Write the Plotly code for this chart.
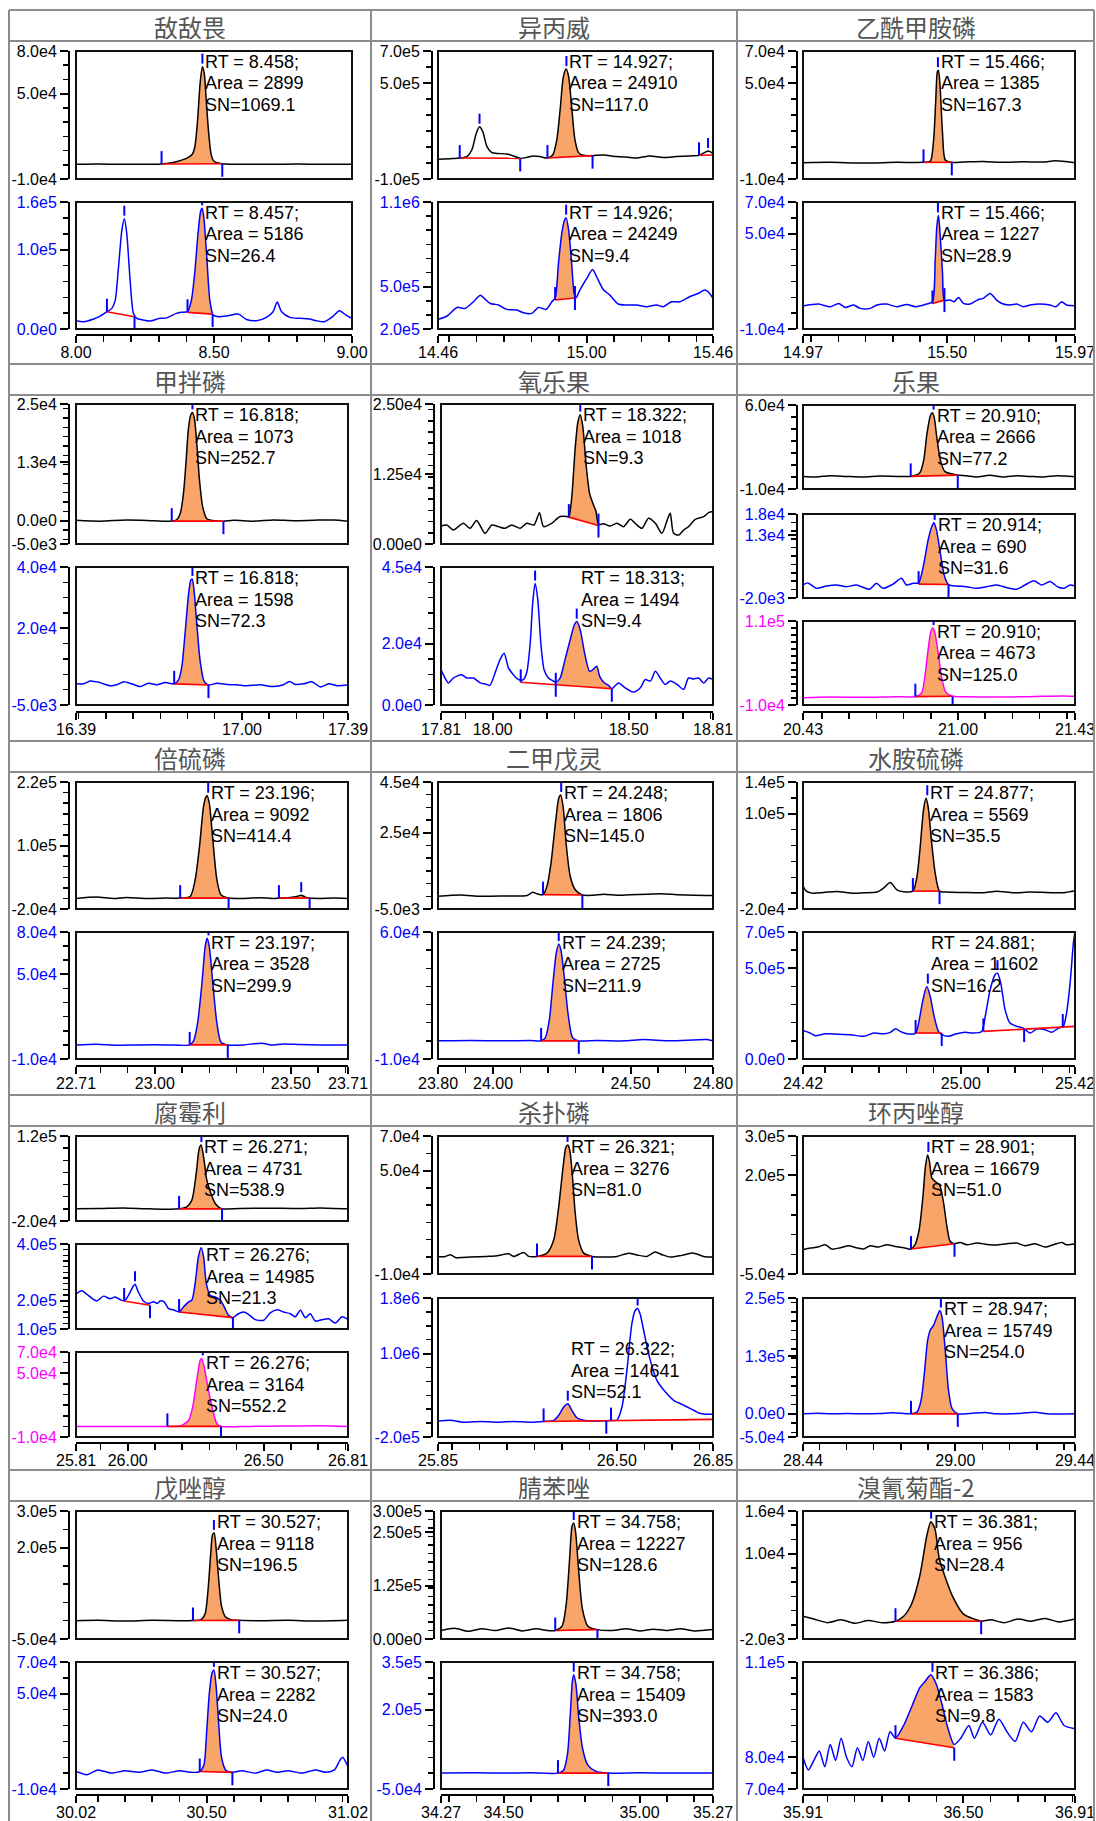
import math
import plotly.graph_objects as go

# ============================ DATA ============================
# ---- 敌敌畏 ----
ddw_xticks = ["8.00", "8.50", "9.00"]
ddw_1_x = [8.00, 8.08, 8.16, 8.24, 8.31, 8.36, 8.40, 8.42, 8.43, 8.44, 8.45, 8.458, 8.465, 8.472, 8.48, 8.49, 8.50, 8.53, 8.60, 8.70, 8.80, 8.90, 9.00]
ddw_1_y = [300, 500, 300, 400, 500, 2000, 4500, 7000, 12000, 30000, 58000, 69000, 64000, 45000, 24000, 7000, 2500, 700, 400, 300, 500, 300, 400]
ddw_1_yticks = [8e4, 5e4, -1e4]
ddw_1_ytext = ["8.0e4", "5.0e4", "-1.0e4"]
ddw_1_base = [(8.31, 500, 8.53, 700)]
ddw_1_fill = [(8.31, 500, 8.53, 700)]
ddw_1_marks = [(8.31, 500, "start"), (8.53, 700, "end"), (8.458, 69000, "apex")]
ddw_1_label = ("8.458", "2899", "1069.1")

ddw_2_x = [8.001, 8.028, 8.064, 8.088, 8.112, 8.13, 8.142, 8.154, 8.166, 8.175, 8.184, 8.196, 8.208, 8.22, 8.244, 8.268, 8.304, 8.328, 8.364, 8.382, 8.404, 8.418, 8.430, 8.442, 8.452, 8.457, 8.463, 8.473, 8.485, 8.497, 8.515, 8.545, 8.588, 8.618, 8.654, 8.69, 8.714, 8.729, 8.745, 8.775, 8.81, 8.846, 8.87, 8.90, 8.93, 8.954, 8.978, 9.0]
ddw_2_y = [10.5e3, 9.2e3, 12.6e3, 16.3e3, 21.8e3, 26e3, 36e3, 78e3, 124e3, 139e3, 120e3, 61.6e3, 19.7e3, 13.4e3, 11.3e3, 10e3, 13.4e3, 14e3, 19.7e3, 21e3, 21.8e3, 36e3, 70e3, 120e3, 149e3, 152e3, 141e3, 95e3, 36e3, 17.6e3, 15.5e3, 16.3e3, 18.8e3, 12e3, 10.5e3, 14.7e3, 21.8e3, 34e3, 21.8e3, 14.7e3, 13.4e3, 12.6e3, 10.5e3, 9.2e3, 15.5e3, 23e3, 17.6e3, 13.4e3]
ddw_2_yticks = [1.6e5, 1e5, 0]
ddw_2_ytext = ["1.6e5", "1.0e5", "0.0e0"]
ddw_2_base = [(8.112, 21.8e3, 8.212, 15.5e3), (8.404, 21e3, 8.495, 18.8e3)]
ddw_2_fill = [(8.404, 21e3, 8.495, 18.8e3)]
ddw_2_marks = [(8.112, 21.8e3, "start"), (8.212, 15.5e3, "end"), (8.175, 139e3, "apex"),
               (8.404, 21e3, "start"), (8.495, 18.8e3, "end"), (8.457, 152e3, "apex")]
ddw_2_label = ("8.457", "5186", "26.4")

# ---- 异丙威 ----
ybw_xticks = ["14.46", "15.00", "15.46"]
ybw_1_x = [14.46, 14.505, 14.539, 14.565, 14.583, 14.599, 14.611, 14.623, 14.638, 14.656, 14.674, 14.71, 14.734, 14.759, 14.783, 14.807, 14.831, 14.858, 14.877, 14.892, 14.904, 14.916, 14.926, 14.935, 14.946, 14.958, 14.971, 14.988, 15.022, 15.061, 15.109, 15.158, 15.182, 15.23, 15.279, 15.327, 15.375, 15.409, 15.424, 15.442, 15.46]
ybw_1_y = [23e3, 27e3, 31e3, 40e3, 81e3, 185e3, 227e3, 196e3, 102e3, 65e3, 60e3, 56e3, 44e3, 29e3, 35e3, 44e3, 40e3, 31e3, 50e3, 144e3, 331e3, 540e3, 587e3, 540e3, 352e3, 144e3, 65e3, 48e3, 46e3, 50e3, 40e3, 35e3, 31e3, 44e3, 35e3, 40e3, 44e3, 48e3, 60e3, 75e3, 60e3]
ybw_1_yticks = [7e5, 5e5, -1e5]
ybw_1_ytext = ["7.0e5", "5.0e5", "-1.0e5"]
ybw_1_base = [(14.539, 31e3, 14.759, 29e3), (14.858, 31e3, 15.022, 46e3), (15.409, 48e3, 15.46, 50e3)]
ybw_1_fill = [(14.858, 31e3, 15.022, 46e3)]
ybw_1_marks = [(14.539, 31e3, "start"), (14.759, 29e3, "end"), (14.611, 227e3, "apex"),
               (14.858, 31e3, "start"), (15.022, 46e3, "end"), (14.927, 587e3, "apex"),
               (15.409, 48e3, "start"), (15.442, 75e3, "apex")]
ybw_1_label = ("14.927", "24910", "117.0")

ybw_2_x = [14.46, 14.493, 14.529, 14.559, 14.589, 14.614, 14.632, 14.65, 14.68, 14.71, 14.747, 14.771, 14.801, 14.825, 14.853, 14.874, 14.886, 14.898, 14.91, 14.92, 14.926, 14.935, 14.947, 14.955, 14.962, 14.976, 15.001, 15.022, 15.037, 15.061, 15.085, 15.115, 15.146, 15.182, 15.218, 15.255, 15.279, 15.309, 15.339, 15.375, 15.406, 15.43, 15.448, 15.46]
ybw_2_y = [268e3, 292e3, 353e3, 346e3, 393e3, 440e3, 410e3, 381e3, 370e3, 339e3, 334e3, 315e3, 311e3, 353e3, 339e3, 393e3, 420e3, 664e3, 876e3, 970e3, 989e3, 900e3, 641e3, 452e3, 422e3, 476e3, 558e3, 622e3, 570e3, 480e3, 440e3, 377e3, 370e3, 370e3, 358e3, 370e3, 358e3, 393e3, 393e3, 429e3, 452e3, 476e3, 452e3, 417e3]
ybw_2_yticks = [1.1e6, 5e5, 2e5]
ybw_2_ytext = ["1.1e6", "5.0e5", "2.0e5"]
ybw_2_base = [(14.886, 405e3, 14.958, 420e3)]
ybw_2_fill = [(14.886, 405e3, 14.958, 420e3)]
ybw_2_marks = [(14.886, 405e3, "start"), (14.958, 420e3, "split"), (14.926, 989e3, "apex")]
ybw_2_label = ("14.926", "24249", "9.4")

# ---- 乙酰甲胺磷 ----
yxjam_xticks = ["14.97", "15.50", "15.97"]
yxjam_1_x = [14.97, 15.07, 15.193, 15.315, 15.413, 15.438, 15.45, 15.458, 15.464, 15.468, 15.474, 15.483, 15.493, 15.517, 15.56, 15.633, 15.707, 15.78, 15.854, 15.897, 15.97]
yxjam_1_y = [200, 400, 0, 400, 400, 1000, 14e3, 39e3, 57e3, 58e3, 48e3, 18.5e3, 1.9e3, 400, 600, 1000, 400, 800, 600, 1.4e3, 200]
yxjam_1_yticks = [7e4, 5e4, -1e4]
yxjam_1_ytext = ["7.0e4", "5.0e4", "-1.0e4"]
yxjam_1_base = [(15.413, 400, 15.517, 400)]
yxjam_1_fill = [(15.413, 400, 15.517, 400)]
yxjam_1_marks = [(15.413, 400, "start"), (15.517, 400, "end"), (15.466, 58e3, "apex")]
yxjam_1_label = ("15.466", "1385", "167.3")

yxjam_2_x = [14.97, 15.027, 15.07, 15.101, 15.125, 15.156, 15.18, 15.217, 15.242, 15.278, 15.315, 15.352, 15.382, 15.425, 15.446, 15.456, 15.462, 15.468, 15.474, 15.483, 15.49, 15.511, 15.526, 15.542, 15.56, 15.584, 15.615, 15.633, 15.658, 15.682, 15.701, 15.731, 15.756, 15.78, 15.805, 15.841, 15.878, 15.9, 15.921, 15.939, 15.97]
yxjam_2_y = [4.5e3, 5.7e3, 4e3, 6.1e3, 3.6e3, 5.1e3, 3e3, 3e3, 5.1e3, 5.7e3, 4e3, 5.5e3, 4e3, 5.7e3, 7.2e3, 33.4e3, 54.3e3, 61.6e3, 50e3, 25e3, 8.2e3, 8.2e3, 7.2e3, 9.9e3, 6.1e3, 5.7e3, 8.6e3, 9.3e3, 12.4e3, 8.2e3, 6.1e3, 5.1e3, 5.7e3, 4e3, 5.1e3, 5.7e3, 5.1e3, 4e3, 7.2e3, 5.1e3, 4.7e3]
yxjam_2_yticks = [7e4, 5e4, -1e4]
yxjam_2_ytext = ["7.0e4", "5.0e4", "-1.0e4"]
yxjam_2_base = [(15.446, 6.1e3, 15.49, 8.2e3)]
yxjam_2_fill = [(15.446, 6.1e3, 15.49, 8.2e3)]
yxjam_2_marks = [(15.446, 6.1e3, "start"), (15.49, 8.2e3, "split"), (15.466, 61.6e3, "apex")]
yxjam_2_label = ("15.466", "1227", "28.9")

# ---- 甲拌磷 ----
jbl_xticks = ["16.39", "17.00", "17.39"]
jbl_1_x = [16.39, 16.478, 16.576, 16.675, 16.742, 16.76, 16.773, 16.785, 16.795, 16.803, 16.812, 16.818, 16.825, 16.834, 16.844, 16.856, 16.871, 16.896, 16.932, 16.969, 17.043, 17.116, 17.19, 17.264, 17.337, 17.39]
jbl_1_y = [100, -100, 150, 0, -100, 200, 1.5e3, 5.8e3, 13e3, 19.5e3, 22.7e3, 23.2e3, 22e3, 16.6e3, 8.7e3, 2.9e3, 400, 0, -100, 100, -100, 150, 0, 100, 150, -100]
jbl_1_yticks = [2.5e4, 1.25e4, 0, -5e3]
jbl_1_ytext = ["2.5e4", "1.3e4", "0.0e0", "-5.0e3"]
jbl_1_base = [(16.742, -100, 16.932, -100)]
jbl_1_fill = [(16.742, -100, 16.932, -100)]
jbl_1_marks = [(16.742, -100, "start"), (16.932, -100, "end"), (16.818, 23.2e3, "apex")]
jbl_1_label = ("16.818", "1073", "252.7")

jbl_2_x = [16.39, 16.417, 16.442, 16.478, 16.515, 16.54, 16.567, 16.595, 16.626, 16.656, 16.687, 16.718, 16.751, 16.767, 16.779, 16.791, 16.804, 16.812, 16.817, 16.824, 16.834, 16.846, 16.861, 16.877, 16.908, 16.945, 16.981, 17.018, 17.067, 17.116, 17.153, 17.175, 17.196, 17.227, 17.257, 17.288, 17.319, 17.35, 17.39]
jbl_2_y = [1.9e3, 1.9e3, 2.8e3, 2.3e3, 1.3e3, 1.6e3, 2.6e3, 1.9e3, 1e3, 2.1e3, 1.6e3, 2.3e3, 1.9e3, 3.2e3, 7.5e3, 18.4e3, 31.3e3, 35.7e3, 36.1e3, 32.4e3, 21.6e3, 9.7e3, 2.7e3, 1.5e3, 2.1e3, 1.7e3, 1.6e3, 1.3e3, 1.6e3, 1e3, 1.6e3, 2.7e3, 1.7e3, 1.9e3, 2.6e3, 0.9e3, 1.9e3, 1.3e3, 1.5e3]
jbl_2_yticks = [4e4, 2e4, -5e3]
jbl_2_ytext = ["4.0e4", "2.0e4", "-5.0e3"]
jbl_2_base = [(16.751, 1.9e3, 16.877, 1.5e3)]
jbl_2_fill = [(16.751, 1.9e3, 16.877, 1.5e3)]
jbl_2_marks = [(16.751, 1.9e3, "start"), (16.877, 1.5e3, "end"), (16.818, 36.1e3, "apex")]
jbl_2_label = ("16.818", "1598", "72.3")

# ---- 氧乐果 ----
ylg_xticks = ["17.81", "18.00", "18.50", "18.81"]
ylg_1_x = [17.81, 17.831, 17.855, 17.892, 17.917, 17.941, 17.972, 17.997, 18.021, 18.046, 18.07, 18.101, 18.125, 18.152, 18.172, 18.187, 18.217, 18.248, 18.273, 18.28, 18.291, 18.303, 18.313, 18.322, 18.331, 18.344, 18.356, 18.368, 18.38, 18.389, 18.408, 18.432, 18.457, 18.481, 18.506, 18.53, 18.549, 18.573, 18.598, 18.622, 18.644, 18.653, 18.665, 18.684, 18.702, 18.72, 18.745, 18.776, 18.794, 18.81]
ylg_1_y = [3.2e3, 3.4e3, 2.5e3, 3.7e3, 2.8e3, 4.2e3, 1.9e3, 3.4e3, 3.1e3, 2.8e3, 3.4e3, 2.8e3, 3.7e3, 3.4e3, 5.6e3, 3.1e3, 3.7e3, 4.9e3, 4.9e3, 4.8e3, 8.5e3, 16.9e3, 21.7e3, 23.1e3, 21.1e3, 13.9e3, 9.1e3, 7.3e3, 5.8e3, 3.5e3, 3.6e3, 3.2e3, 3.7e3, 3.1e3, 4.4e3, 3.4e3, 2.8e3, 4.6e3, 3.7e3, 1.9e3, 4.6e3, 5.5e3, 1.9e3, 1.6e3, 2.5e3, 3.1e3, 4.4e3, 4.9e3, 5.6e3, 5.8e3]
ylg_1_yticks = [2.5e4, 1.25e4, 0]
ylg_1_ytext = ["2.50e4", "1.25e4", "0.00e0"]
ylg_1_base = [(18.28, 4.8e3, 18.389, 3.3e3)]
ylg_1_fill = [(18.28, 4.8e3, 18.389, 3.3e3)]
ylg_1_marks = [(18.28, 4.8e3, "start"), (18.389, 3.3e3, "split"), (18.322, 23.1e3, "apex")]
ylg_1_label = ("18.322", "1018", "9.3")

ylg_2_x = [17.81, 17.825, 17.837, 17.855, 17.886, 17.904, 17.929, 17.954, 17.978, 17.99, 18.009, 18.027, 18.042, 18.058, 18.076, 18.095, 18.113, 18.125, 18.138, 18.147, 18.156, 18.166, 18.177, 18.189, 18.205, 18.223, 18.232, 18.248, 18.266, 18.285, 18.3, 18.309, 18.322, 18.338, 18.356, 18.368, 18.383, 18.393, 18.408, 18.426, 18.438, 18.463, 18.487, 18.518, 18.543, 18.561, 18.58, 18.598, 18.616, 18.634, 18.653, 18.678, 18.702, 18.72, 18.739, 18.757, 18.776, 18.794, 18.81]
ylg_2_y = [11.5e3, 8.8e3, 7.2e3, 8.8e3, 9.9e3, 8.8e3, 8.8e3, 7.2e3, 6.7e3, 6.4e3, 10.5e3, 14.8e3, 16.9e3, 12.1e3, 9.9e3, 8.3e3, 8.3e3, 10.5e3, 20.2e3, 33.1e3, 39.6e3, 34.2e3, 20.2e3, 11.5e3, 8.8e3, 7.8e3, 7.4e3, 8.8e3, 14.8e3, 21.3e3, 26.1e3, 27.2e3, 24.5e3, 16.9e3, 11e3, 11.5e3, 12.6e3, 9.4e3, 7.4e3, 6.4e3, 5.3e3, 7.2e3, 5.6e3, 4.2e3, 5.6e3, 8.3e3, 7.8e3, 11e3, 8.8e3, 6.7e3, 7.8e3, 6.7e3, 5.1e3, 8.8e3, 8.5e3, 8.8e3, 7.2e3, 8.8e3, 8.3e3]
ylg_2_yticks = [4.5e4, 2e4, 0]
ylg_2_ytext = ["4.5e4", "2.0e4", "0.0e0"]
ylg_2_base = [(18.103, 7.4e3, 18.438, 5.3e3)]
ylg_2_fill = [(18.232, 6.6e3, 18.438, 5.3e3)]
ylg_2_marks = [(18.103, 7.4e3, "start"), (18.156, 39.6e3, "apex"), (18.232, 6.6e3, "split"),
               (18.309, 27.2e3, "apex"), (18.438, 5.3e3, "end")]
ylg_2_label = ("18.313", "1494", "9.4")

# ---- 乐果 ----
lg_xticks = ["20.43", "21.00", "21.43"]
lg_1_x = [20.43, 20.479, 20.528, 20.59, 20.651, 20.712, 20.774, 20.826, 20.859, 20.874, 20.886, 20.899, 20.906, 20.913, 20.923, 20.935, 20.951, 20.976, 20.999, 21.031, 21.068, 21.117, 21.166, 21.215, 21.264, 21.313, 21.362, 21.43]
lg_1_y = [500, 0, 1.1e3, 500, 0, 800, 500, 500, 3.3e3, 14.3e3, 36.5e3, 51.7e3, 53.6e3, 48.9e3, 31e3, 14.3e3, 4.7e3, 2.7e3, 1.6e3, 1.1e3, 0, 1.4e3, 0, 1.1e3, 500, 0, 1.1e3, 300]
lg_1_yticks = [6e4, -1e4]
lg_1_ytext = ["6.0e4", "-1.0e4"]
lg_1_base = [(20.826, 500, 20.999, 1.6e3)]
lg_1_fill = [(20.826, 500, 20.999, 1.6e3)]
lg_1_marks = [(20.826, 500, "start"), (20.999, 1.6e3, "end"), (20.91, 53.6e3, "apex")]
lg_1_label = ("20.910", "2666", "77.2")

lg_2_x = [20.43, 20.448, 20.479, 20.516, 20.553, 20.59, 20.626, 20.675, 20.7, 20.724, 20.761, 20.792, 20.81, 20.835, 20.855, 20.872, 20.89, 20.904, 20.911, 20.921, 20.935, 20.951, 20.965, 20.994, 21.031, 21.068, 21.105, 21.142, 21.178, 21.215, 21.246, 21.279, 21.307, 21.338, 21.369, 21.393, 21.412, 21.43]
lg_2_y = [1.1e3, 1.6e3, 300, 850, 1.1e3, 700, 1.1e3, 100, 1.5e3, 300, 1.3e3, 2.7e3, 1.1e3, 1.5e3, 1.6e3, 5.4e3, 11.8e3, 15.1e3, 15.9e3, 14.1e3, 8.6e3, 3e3, 1.2e3, 850, 700, 300, 700, 1.1e3, 500, 100, 1.1e3, 2.1e3, 1.1e3, 1.9e3, 550, 400, 1.1e3, 850]
lg_2_yticks = [1.8e4, 1.3e4, -2e3]
lg_2_ytext = ["1.8e4", "1.3e4", "-2.0e3"]
lg_2_base = [(20.855, 1.3e3, 20.965, 1.2e3)]
lg_2_fill = [(20.855, 1.3e3, 20.965, 1.2e3)]
lg_2_marks = [(20.855, 1.3e3, "start"), (20.965, 1.2e3, "end"), (20.914, 15.9e3, "apex")]
lg_2_label = ("20.914", "690", "31.6")

lg_3_x = [20.43, 20.528, 20.651, 20.774, 20.843, 20.866, 20.878, 20.89, 20.9, 20.907, 20.915, 20.927, 20.939, 20.955, 20.98, 21.019, 21.142, 21.264, 21.387, 21.43]
lg_3_y = [500, 1.4e3, 1e3, 1.9e3, 1.9e3, 7.1e3, 31e3, 69e3, 95e3, 100e3, 92.9e3, 64.3e3, 31e3, 8.1e3, 2.4e3, 1.9e3, 1.4e3, 1.9e3, 2.9e3, 2.4e3]
lg_3_yticks = [1.1e5, -1e4]
lg_3_ytext = ["1.1e5", "-1.0e4"]
lg_3_base = [(20.843, 1.9e3, 20.98, 2.4e3)]
lg_3_fill = [(20.843, 1.9e3, 20.98, 2.4e3)]
lg_3_marks = [(20.843, 1.9e3, "start"), (20.98, 2.4e3, "end"), (20.91, 100e3, "apex")]
lg_3_label = ("20.910", "4673", "125.0")

# ---- 倍硫磷 ----
bll_xticks = ["22.71", "23.00", "23.50", "23.71"]
bll_1_x = [22.71, 22.786, 22.847, 22.896, 22.97, 23.044, 23.093, 23.13, 23.148, 23.164, 23.179, 23.188, 23.192, 23.2, 23.212, 23.228, 23.243, 23.271, 23.326, 23.387, 23.436, 23.456, 23.498, 23.522, 23.538, 23.553, 23.569, 23.608, 23.657, 23.71]
bll_1_y = [0, 2.5e3, 0, 1.9e3, 0, 600, 600, 3.7e3, 35e3, 98e3, 174e3, 192e3, 194e3, 180e3, 117e3, 35e3, 6.9e3, 600, 0, 1.3e3, 0, 600, 1.9e3, 3.7e3, 6.2e3, 2.5e3, 600, 0, 600, 0]
bll_1_yticks = [2.2e5, 1e5, -2e4]
bll_1_ytext = ["2.2e5", "1.0e5", "-2.0e4"]
bll_1_base = [(23.093, 600, 23.271, 600), (23.456, 600, 23.569, 600)]
bll_1_fill = [(23.093, 600, 23.271, 600), (23.456, 600, 23.569, 600)]
bll_1_marks = [(23.093, 600, "start"), (23.271, 600, "end"), (23.196, 194e3, "apex"),
               (23.456, 600, "start"), (23.569, 600, "end"), (23.538, 6.2e3, "apex")]
bll_1_label = ("23.196", "9092", "414.4")

bll_2_x = [22.71, 22.786, 22.86, 22.946, 23.044, 23.128, 23.142, 23.157, 23.173, 23.185, 23.192, 23.2, 23.213, 23.228, 23.243, 23.268, 23.326, 23.393, 23.424, 23.473, 23.535, 23.608, 23.71]
bll_2_y = [0, 500, -200, 0, 0, 0, 2.6e3, 15.4e3, 43.7e3, 69.6e3, 75.5e3, 69.6e3, 43.7e3, 15.4e3, 1.9e3, 0, 0, 1.2e3, 0, 700, 200, 0, 0]
bll_2_yticks = [8e4, 5e4, -1e4]
bll_2_ytext = ["8.0e4", "5.0e4", "-1.0e4"]
bll_2_base = [(23.128, 0, 23.268, 0)]
bll_2_fill = [(23.128, 0, 23.268, 0)]
bll_2_marks = [(23.128, 0, "start"), (23.268, 0, "end"), (23.197, 75.5e3, "apex")]
bll_2_label = ("23.197", "3528", "299.9")

# ---- 二甲戊灵 ----
ejwl_xticks = ["23.80", "24.00", "24.50", "24.80"]
ejwl_1_x = [23.80, 23.881, 23.954, 24.039, 24.124, 24.145, 24.16, 24.182, 24.196, 24.211, 24.227, 24.239, 24.246, 24.255, 24.267, 24.281, 24.299, 24.325, 24.366, 24.402, 24.451, 24.499, 24.56, 24.608, 24.669, 24.73, 24.80]
ejwl_1_y = [0, 500, 0, 100, 300, 1.6e3, 1e3, 650, 3.9e3, 13.1e3, 28.8e3, 38.6e3, 39.9e3, 35.3e3, 19.6e3, 7.8e3, 2.6e3, 500, 400, 800, 400, 650, 800, 1e3, 650, 400, 300]
ejwl_1_yticks = [4.5e4, 2.5e4, -5e3]
ejwl_1_ytext = ["4.5e4", "2.5e4", "-5.0e3"]
ejwl_1_base = [(24.182, 650, 24.325, 500)]
ejwl_1_fill = [(24.182, 650, 24.325, 500)]
ejwl_1_marks = [(24.182, 650, "start"), (24.325, 500, "end"), (24.248, 39.9e3, "apex")]
ejwl_1_label = ("24.248", "1806", "145.0")

ejwl_2_x = [23.80, 23.918, 24.039, 24.136, 24.175, 24.19, 24.205, 24.218, 24.23, 24.239, 24.247, 24.259, 24.274, 24.29, 24.312, 24.378, 24.475, 24.548, 24.645, 24.778, 24.80]
ejwl_2_y = [0, 200, 0, 200, 0, 1.6e3, 11.7e3, 31.9e3, 48.3e3, 53.4e3, 50.1e3, 35.5e3, 13.6e3, 1.6e3, 0, 200, 0, 700, 0, 700, 0]
ejwl_2_yticks = [6e4, -1e4]
ejwl_2_ytext = ["6.0e4", "-1.0e4"]
ejwl_2_base = [(24.175, 0, 24.312, 0)]
ejwl_2_fill = [(24.175, 0, 24.312, 0)]
ejwl_2_marks = [(24.175, 0, "start"), (24.312, 0, "end"), (24.239, 53.4e3, "apex")]
ejwl_2_label = ("24.239", "2725", "211.9")

# ---- 水胺硫磷 ----
salsl_xticks = ["24.42", "25.00", "25.42"]
salsl_1_x = [24.42, 24.432, 24.453, 24.496, 24.545, 24.594, 24.643, 24.692, 24.716, 24.741, 24.765, 24.79, 24.824, 24.839, 24.851, 24.863, 24.872, 24.88, 24.892, 24.906, 24.922, 24.949, 25.01, 25.083, 25.132, 25.194, 25.255, 25.316, 25.377, 25.42]
salsl_1_y = [9.3e3, 2.5e3, 0, 800, 2.1e3, 0, 400, 1.3e3, 6.3e3, 13.4e3, 4.2e3, 1.7e3, 2.5e3, 21e3, 58.8e3, 104.8e3, 119.5e3, 109e3, 67.1e3, 25.3e3, 2.5e3, 1.3e3, 800, 400, 2.5e3, 400, 1.3e3, 800, 400, 2.9e3]
salsl_1_yticks = [1.4e5, 1e5, -2e4]
salsl_1_ytext = ["1.4e5", "1.0e5", "-2.0e4"]
salsl_1_base = [(24.824, 2.5e3, 24.922, 2.5e3)]
salsl_1_fill = [(24.824, 2.5e3, 24.922, 2.5e3)]
salsl_1_marks = [(24.824, 2.5e3, "start"), (24.922, 2.5e3, "end"), (24.877, 119.5e3, "apex")]
salsl_1_label = ("24.877", "5569", "35.5")

salsl_2_x = [24.42, 24.447, 24.465, 24.502, 24.545, 24.594, 24.643, 24.68, 24.716, 24.741, 24.761, 24.777, 24.802, 24.834, 24.845, 24.861, 24.875, 24.888, 24.902, 24.918, 24.93, 24.955, 24.985, 25.016, 25.047, 25.077, 25.09, 25.108, 25.126, 25.135, 25.147, 25.163, 25.181, 25.206, 25.23, 25.255, 25.279, 25.31, 25.334, 25.359, 25.377, 25.389, 25.402, 25.414, 25.42]
salsl_2_y = [157.6e3, 143e3, 128e3, 139e3, 137e3, 134e3, 125e3, 143e3, 139e3, 147e3, 167e3, 152e3, 139e3, 143e3, 198e3, 326e3, 399e3, 344e3, 235e3, 152e3, 134e3, 125e3, 139e3, 147e3, 143e3, 152e3, 235e3, 381e3, 464e3, 473e3, 418e3, 271e3, 198e3, 180e3, 170e3, 143e3, 165e3, 161e3, 147e3, 170e3, 180e3, 253e3, 418e3, 638e3, 702e3]
salsl_2_yticks = [7e5, 5e5, 0]
salsl_2_ytext = ["7.0e5", "5.0e5", "0.0e0"]
salsl_2_base = [(24.834, 143e3, 24.93, 143e3), (25.083, 152e3, 25.42, 180e3)]
salsl_2_fill = [(24.834, 143e3, 24.93, 143e3)]
salsl_2_marks = [(24.834, 143e3, "start"), (24.93, 143e3, "end"), (24.879, 399e3, "apex"),
                 (25.083, 152e3, "start"), (25.135, 473e3, "apex"), (25.233, 165e3, "end"),
                 (25.375, 176e3, "start")]
salsl_2_label = ("24.881", "11602", "16.2")

# ---- 腐霉利 ----
fml_xticks = ["25.81", "26.00", "26.50", "26.81"]
fml_1_x = [25.81, 25.898, 25.984, 26.082, 26.189, 26.217, 26.236, 26.252, 26.263, 26.27, 26.279, 26.291, 26.306, 26.322, 26.34, 26.347, 26.414, 26.512, 26.635, 26.708, 26.81]
fml_1_y = [0, 550, 1.6e3, 0, 0, 3.3e3, 14.3e3, 58.3e3, 99.6e3, 105e3, 85.8e3, 47.2e3, 25.2e3, 8.8e3, 1.1e3, 0, 550, 1.1e3, 550, 1.6e3, 0]
fml_1_yticks = [1.2e5, -2e4]
fml_1_ytext = ["1.2e5", "-2.0e4"]
fml_1_base = [(26.189, 0, 26.347, 0)]
fml_1_fill = [(26.189, 0, 26.347, 0)]
fml_1_marks = [(26.189, 0, "start"), (26.347, 0, "end"), (26.271, 105e3, "apex")]
fml_1_label = ("26.271", "4731", "538.9")

fml_2_x = [25.81, 25.831, 25.849, 25.886, 25.911, 25.935, 25.954, 25.972, 25.987, 26.003, 26.019, 26.027, 26.039, 26.058, 26.076, 26.095, 26.109, 26.119, 26.134, 26.15, 26.168, 26.189, 26.205, 26.224, 26.236, 26.248, 26.26, 26.27, 26.279, 26.289, 26.303, 26.322, 26.34, 26.355, 26.371, 26.387, 26.404, 26.426, 26.444, 26.469, 26.5, 26.524, 26.549, 26.573, 26.598, 26.616, 26.635, 26.653, 26.671, 26.69, 26.714, 26.739, 26.763, 26.788, 26.81]
fml_2_y = [223e3, 235e3, 223e3, 199e3, 216e3, 207e3, 213e3, 204e3, 199e3, 219e3, 249e3, 258e3, 231e3, 199e3, 190e3, 196e3, 190e3, 199e3, 196e3, 172e3, 168e3, 160e3, 178e3, 196e3, 202e3, 261e3, 355e3, 387e3, 355e3, 261e3, 219e3, 213e3, 202e3, 178e3, 148e3, 140e3, 152e3, 160e3, 152e3, 133e3, 131e3, 157e3, 168e3, 160e3, 154e3, 143e3, 166e3, 140e3, 154e3, 128e3, 133e3, 136e3, 121e3, 143e3, 133e3]
fml_2_yticks = [4e5, 2e5, 1e5]
fml_2_ytext = ["4.0e5", "2.0e5", "1.0e5"]
fml_2_base = [(25.987, 199e3, 26.082, 184e3), (26.189, 160e3, 26.387, 140e3)]
fml_2_fill = [(26.189, 160e3, 26.387, 140e3)]
fml_2_marks = [(25.987, 199e3, "start"), (26.027, 258e3, "apex"), (26.082, 184e3, "end"),
               (26.189, 160e3, "start"), (26.276, 387e3, "apex"), (26.387, 140e3, "end")]
fml_2_label = ("26.276", "14985", "21.3")

fml_3_x = [25.81, 25.96, 26.082, 26.146, 26.193, 26.224, 26.239, 26.254, 26.266, 26.272, 26.281, 26.297, 26.313, 26.328, 26.343, 26.45, 26.573, 26.708, 26.81]
fml_3_y = [0, 0, 0, 0, 300, 5.7e3, 18.3e3, 43.5e3, 61.8e3, 64e3, 56.1e3, 34e3, 15.1e3, 2.5e3, 0, 0, 300, 600, 0]
fml_3_yticks = [7e4, 5e4, -1e4]
fml_3_ytext = ["7.0e4", "5.0e4", "-1.0e4"]
fml_3_base = [(26.146, 0, 26.343, 0)]
fml_3_fill = [(26.146, 0, 26.343, 0)]
fml_3_marks = [(26.146, 0, "start"), (26.343, 0, "end"), (26.276, 64e3, "apex")]
fml_3_label = ("26.276", "3164", "552.2")

# ---- 杀扑磷 ----
spl_xticks = ["25.85", "26.50", "26.85"]
spl_1_x = [25.85, 25.877, 25.895, 25.913, 25.968, 26.028, 26.065, 26.107, 26.125, 26.162, 26.18, 26.21, 26.246, 26.271, 26.289, 26.305, 26.315, 26.322, 26.329, 26.338, 26.349, 26.361, 26.38, 26.41, 26.452, 26.501, 26.543, 26.574, 26.61, 26.64, 26.665, 26.695, 26.737, 26.78, 26.816, 26.85]
spl_1_y = [0, 200, 1.2e3, -400, -200, 200, 600, 1.7e3, 200, 2.5e3, 200, 200, 2.1e3, 9.9e3, 29.1e3, 52.3e3, 63.4e3, 64.8e3, 61.9e3, 48.4e3, 25.3e3, 9.9e3, 2.1e3, 200, -200, 200, 2.1e3, 1e3, 200, 2.7e3, 1.2e3, -200, 800, 2.1e3, 200, -200]
spl_1_yticks = [7e4, 5e4, -1e4]
spl_1_ytext = ["7.0e4", "5.0e4", "-1.0e4"]
spl_1_base = [(26.21, 200, 26.41, 200)]
spl_1_fill = [(26.21, 200, 26.41, 200)]
spl_1_marks = [(26.21, 200, "start"), (26.41, 200, "end"), (26.321, 64.8e3, "apex")]
spl_1_label = ("26.321", "3276", "81.0")

spl_2_x = [25.85, 25.895, 25.943, 26.004, 26.065, 26.125, 26.186, 26.234, 26.271, 26.289, 26.307, 26.322, 26.337, 26.355, 26.38, 26.41, 26.44, 26.462, 26.479, 26.501, 26.519, 26.537, 26.555, 26.567, 26.576, 26.585, 26.6, 26.622, 26.646, 26.677, 26.707, 26.737, 26.768, 26.798, 26.822, 26.85]
spl_2_y = [30e3, 40e3, 14e3, 24e3, 14e3, 24e3, 14e3, 24e3, 40e3, 112e3, 232e3, 280e3, 184e3, 77e3, 40e3, 30e3, 30e3, 33e3, 36e3, 45e3, 232e3, 759e3, 1.43e6, 1.62e6, 1.65e6, 1.57e6, 1.29e6, 903e3, 615e3, 447e3, 328e3, 270e3, 208e3, 146e3, 127e3, 127e3]
spl_2_yticks = [1.8e6, 1e6, -2e5]
spl_2_ytext = ["1.8e6", "1.0e6", "-2.0e5"]
spl_2_base = [(26.234, 24e3, 26.85, 53e3)]
spl_2_fill = [(26.234, 24e3, 26.462, 34.7e3)]
spl_2_marks = [(26.234, 24e3, "start"), (26.322, 280e3, "apex"), (26.462, 34.7e3, "end"),
               (26.479, 36e3, "start"), (26.576, 1.65e6, "apex")]
spl_2_label = ("26.322", "14641", "52.1")

# ---- 环丙唑醇 ----
cbzc_xticks = ["28.44", "29.00", "29.44"]
cbzc_1_x = [28.44, 28.467, 28.494, 28.522, 28.546, 28.577, 28.608, 28.636, 28.663, 28.687, 28.718, 28.748, 28.779, 28.81, 28.837, 28.852, 28.867, 28.881, 28.89, 28.898, 28.905, 28.914, 28.926, 28.942, 28.957, 28.969, 28.981, 28.997, 29.018, 29.042, 29.079, 29.116, 29.152, 29.189, 29.226, 29.256, 29.293, 29.33, 29.36, 29.391, 29.409, 29.44]
cbzc_1_y = [11.5e3, 15.8e3, 18.3e3, 24.2e3, 13.2e3, 16.6e3, 21.7e3, 16.6e3, 13.2e3, 21.7e3, 18.3e3, 24.2e3, 20e3, 16.6e3, 13.2e3, 24.2e3, 62.2e3, 146.5e3, 222.4e3, 252e3, 235e3, 193e3, 184.5e3, 176e3, 129.6e3, 70.6e3, 32.6e3, 26.8e3, 30.2e3, 24.2e3, 28.5e3, 25e3, 23.3e3, 26.8e3, 28.5e3, 21.7e3, 26.8e3, 18.3e3, 24.2e3, 30.2e3, 24.2e3, 26.8e3]
cbzc_1_yticks = [3e5, 2e5, -5e4]
cbzc_1_ytext = ["3.0e5", "2.0e5", "-5.0e4"]
cbzc_1_base = [(28.837, 13.2e3, 28.997, 26.8e3)]
cbzc_1_fill = [(28.837, 13.2e3, 28.997, 26.8e3)]
cbzc_1_marks = [(28.837, 13.2e3, "start"), (28.997, 26.8e3, "end"), (28.901, 252e3, "apex")]
cbzc_1_label = ("28.901", "16679", "51.0")

cbzc_2_x = [28.44, 28.491, 28.54, 28.602, 28.663, 28.724, 28.773, 28.837, 28.859, 28.874, 28.886, 28.898, 28.908, 28.92, 28.932, 28.943, 28.951, 28.963, 28.975, 28.988, 29.009, 29.054, 29.11, 29.152, 29.226, 29.293, 29.336, 29.44]
cbzc_2_y = [0, 1.4e3, 0, 700, 0, 700, 2.2e3, 0, 3.6e3, 28.8e3, 86.3e3, 158e3, 181e3, 191e3, 209e3, 223e3, 209e3, 137e3, 50.7e3, 11.2e3, 0, 700, 2.9e3, 0, 700, 3.6e3, 0, 0]
cbzc_2_yticks = [2.5e5, 1.25e5, 0, -5e4]
cbzc_2_ytext = ["2.5e5", "1.3e5", "0.0e0", "-5.0e4"]
cbzc_2_base = [(28.837, 0, 29.009, 0)]
cbzc_2_fill = [(28.837, 0, 29.009, 0)]
cbzc_2_marks = [(28.837, 0, "start"), (29.009, 0, "end"), (28.947, 223e3, "apex")]
cbzc_2_label = ("28.947", "15749", "254.0")

# ---- 戊唑醇 ----
wzc_xticks = ["30.02", "30.50", "31.02"]
wzc_1_x = [30.02, 30.1, 30.2, 30.3, 30.4, 30.45, 30.48, 30.495, 30.505, 30.515, 30.522, 30.528, 30.535, 30.545, 30.555, 30.57, 30.59, 30.62, 30.7, 30.8, 30.9, 31.02]
wzc_1_y = [0, 1e3, -1e3, 1e3, 0, 500, 3e3, 20e3, 80e3, 180e3, 235e3, 240e3, 200e3, 110e3, 40e3, 10e3, 3e3, 1e3, 0, 1e3, -1e3, 1e3]
wzc_1_yticks = [3e5, 2e5, -5e4]
wzc_1_ytext = ["3.0e5", "2.0e5", "-5.0e4"]
wzc_1_base = [(30.45, 500, 30.62, 1e3)]
wzc_1_fill = [(30.45, 500, 30.62, 1e3)]
wzc_1_marks = [(30.45, 500, "start"), (30.62, 1e3, "end"), (30.527, 240e3, "apex")]
wzc_1_label = ("30.527", "9118", "196.5")

wzc_2_x = [30.02, 30.06, 30.1, 30.15, 30.2, 30.25, 30.3, 30.35, 30.4, 30.44, 30.475, 30.49, 30.50, 30.51, 30.52, 30.527, 30.535, 30.545, 30.555, 30.57, 30.595, 30.63, 30.68, 30.72, 30.76, 30.8, 30.85, 30.9, 30.94, 30.97, 30.99, 31.0, 31.02]
wzc_2_y = [1e3, -1e3, 2e3, 0, 1.5e3, 500, 2e3, 0, 1.5e3, 500, 1e3, 5e3, 25e3, 50e3, 63e3, 65e3, 55e3, 30e3, 10e3, 2e3, 500, 1.5e3, 0, 2e3, 500, 1.5e3, 0, 2e3, 500, 2e3, 8e3, 10e3, 4e3]
wzc_2_yticks = [7e4, 5e4, -1e4]
wzc_2_ytext = ["7.0e4", "5.0e4", "-1.0e4"]
wzc_2_base = [(30.475, 1e3, 30.595, 500)]
wzc_2_fill = [(30.475, 1e3, 30.595, 500)]
wzc_2_marks = [(30.475, 1e3, "start"), (30.595, 500, "end"), (30.527, 65e3, "apex")]
wzc_2_label = ("30.527", "2282", "24.0")

# ---- 腈苯唑 ----
jbz_xticks = ["34.27", "34.50", "35.00", "35.27"]
jbz_1_x = [34.27, 34.32, 34.37, 34.42, 34.47, 34.52, 34.57, 34.62, 34.66, 34.69, 34.715, 34.73, 34.742, 34.752, 34.758, 34.765, 34.775, 34.79, 34.81, 34.845, 34.9, 34.95, 35.0, 35.05, 35.1, 35.15, 35.2, 35.27]
jbz_1_y = [20e3, 25e3, 18e3, 24e3, 20e3, 26e3, 19e3, 24e3, 20e3, 20e3, 30e3, 80e3, 180e3, 265e3, 272e3, 250e3, 170e3, 70e3, 30e3, 22e3, 20e3, 24e3, 19e3, 23e3, 20e3, 24e3, 19e3, 22e3]
jbz_1_yticks = [3e5, 2.5e5, 1.25e5, 0]
jbz_1_ytext = ["3.00e5", "2.50e5", "1.25e5", "0.00e0"]
jbz_1_base = [(34.69, 20e3, 34.845, 22e3)]
jbz_1_fill = [(34.69, 20e3, 34.845, 22e3)]
jbz_1_marks = [(34.69, 20e3, "start"), (34.845, 22e3, "end"), (34.758, 272e3, "apex")]
jbz_1_label = ("34.758", "12227", "128.6")

jbz_2_x = [34.27, 34.4, 34.5, 34.6, 34.70, 34.72, 34.735, 34.745, 34.753, 34.758, 34.766, 34.776, 34.79, 34.81, 34.84, 34.885, 35.0, 35.1, 35.27]
jbz_2_y = [0, 1e3, 0, 1e3, 0, 8e3, 60e3, 180e3, 290e3, 310e3, 280e3, 180e3, 80e3, 25e3, 5e3, 0, 1e3, 0, 0]
jbz_2_yticks = [3.5e5, 2e5, -5e4]
jbz_2_ytext = ["3.5e5", "2.0e5", "-5.0e4"]
jbz_2_base = [(34.70, 0, 34.885, 0)]
jbz_2_fill = [(34.70, 0, 34.885, 0)]
jbz_2_marks = [(34.70, 0, "start"), (34.885, 0, "end"), (34.758, 310e3, "apex")]
jbz_2_label = ("34.758", "15409", "393.0")

# ---- 溴氰菊酯-2 ----
xqjz_xticks = ["35.91", "36.50", "36.91"]
xqjz_1_x = [35.91, 35.95, 36.0, 36.05, 36.1, 36.15, 36.2, 36.25, 36.28, 36.31, 36.34, 36.365, 36.38, 36.395, 36.41, 36.43, 36.46, 36.5, 36.54, 36.565, 36.6, 36.65, 36.7, 36.75, 36.8, 36.85, 36.91]
xqjz_1_y = [1200, 800, 300, 700, 200, 600, 300, 500, 1200, 3000, 7000, 12500, 14500, 13500, 9500, 7000, 4000, 1500, 800, 500, 700, 300, 800, 500, 900, 400, 800]
xqjz_1_yticks = [1.6e4, 1e4, -2e3]
xqjz_1_ytext = ["1.6e4", "1.0e4", "-2.0e3"]
xqjz_1_base = [(36.25, 500, 36.565, 500)]
xqjz_1_fill = [(36.25, 500, 36.565, 500)]
xqjz_1_marks = [(36.25, 500, "start"), (36.565, 500, "end"), (36.381, 14500, "apex")]
xqjz_1_label = ("36.381", "956", "28.4")

xqjz_2_x = [35.91, 35.93, 35.95, 35.97, 35.99, 36.01, 36.03, 36.05, 36.07, 36.09, 36.11, 36.13, 36.15, 36.17, 36.19, 36.21, 36.23, 36.25, 36.28, 36.31, 36.34, 36.36, 36.38, 36.40, 36.42, 36.44, 36.466, 36.49, 36.52, 36.54, 36.57, 36.6, 36.63, 36.66, 36.69, 36.72, 36.75, 36.78, 36.81, 36.84, 36.87, 36.91]
xqjz_2_y = [80e3, 76e3, 79e3, 82e3, 77e3, 84e3, 79e3, 86e3, 80e3, 77e3, 83e3, 79e3, 85e3, 80e3, 86e3, 82e3, 88e3, 86e3, 90e3, 96e3, 102e3, 104e3, 106e3, 103e3, 97e3, 90e3, 84e3, 86e3, 90e3, 86e3, 91e3, 87e3, 92e3, 88e3, 85e3, 91e3, 88e3, 93e3, 91e3, 94e3, 90e3, 89e3]
xqjz_2_yticks = [1.1e5, 8e4, 7e4]
xqjz_2_ytext = ["1.1e5", "8.0e4", "7.0e4"]
xqjz_2_base = [(36.25, 86e3, 36.466, 83e3)]
xqjz_2_fill = [(36.25, 86e3, 36.466, 83e3)]
xqjz_2_marks = [(36.25, 86e3, "start"), (36.466, 83e3, "end"), (36.386, 106e3, "apex")]
xqjz_2_label = ("36.386", "1583", "9.8")

TITLES = ["敌敌畏", "异丙威", "乙酰甲胺磷", "甲拌磷", "氧乐果", "乐果", "倍硫磷", "二甲戊灵",
          "水胺硫磷", "腐霉利", "杀扑磷", "环丙唑醇", "戊唑醇", "腈苯唑", "溴氰菊酯-2"]

# ============================ LAYOUT ============================
W, H = 1096, 1821
FONT = "Liberation Sans, Arial, sans-serif"
CJK = "Noto Sans CJK SC, sans-serif"
CURVE_COLORS = ["#000000", "#0000ff", "#ff00ff"]
FILL_COLOR = "#f9a468"
g = globals()


def fx(p):
    return p / W


def fy(p):
    return 1 - p / H


def panel(prefix):
    return dict(x=g[prefix + "_x"], y=g[prefix + "_y"], yt=g[prefix + "_yticks"],
                ytt=g[prefix + "_ytext"], base=g[prefix + "_base"], fill=g[prefix + "_fill"],
                marks=g[prefix + "_marks"], lab=g[prefix + "_label"])


KEYS = ["ddw", "ybw", "yxjam", "jbl", "ylg", "lg", "bll", "ejwl", "salsl", "fml", "spl", "cbzc", "wzc", "jbz", "xqjz"]
NPAN = {"lg": 3, "fml": 3}

# vertical pixel geometry per row: panels (top, bottom) & x-axis line y
ROWGEO = [
    {2: [(51, 179), (202, 329)], "xa": 335},
    {2: [(404, 544), (567, 705)], 3: [(405, 489), (514, 598), (621, 705)], "xa": 712},
    {2: [(782, 909), (932, 1059)], "xa": 1066},
    {2: [(1136, 1274), (1298, 1437)], 3: [(1136, 1221), (1244, 1329), (1352, 1437)], "xa": 1443},
    {2: [(1511, 1639), (1662, 1789)], "xa": 1795},
]
# horizontal geometry per cell: box left, box right, y-axis line x
BOXGEO = [
    (76, 352, 69), (438, 713, 432), (803, 1075, 797),
    (76, 348, 69), (441, 713, 434), (803, 1075, 797),
    (76, 348, 69), (438, 713, 432), (803, 1075, 797),
    (76, 348, 69), (438, 713, 432), (803, 1075, 797),
    (76, 348, 69), (441, 713, 434), (803, 1075, 797),
]
LABEL_Y = {("spl", 1): 0.712}
COLX = [(9, 371), (371, 737), (737, 1094)]
ROWTOP = [10, 364, 741, 1095, 1470]
TITLE_H = 31


def minor_vals(lo, hi):
    span = hi - lo
    step = None
    for e in range(-3, 9):
        for m in (1, 2, 5):
            s = m * 10 ** e
            if span / s >= 7 - 1e-9:
                step = s
    vals = []
    k = math.ceil(lo / step - 1e-9)
    while k * step <= hi + 1e-9:
        vals.append(round(k * step, 6))
        k += 1
    return vals


def minor_x(lo, hi):
    return [round(k * 0.1, 2) for k in range(math.ceil(lo * 10 - 1e-9), math.floor(hi * 10 + 1e-9) + 1)]


MARK_OFF = {"start": (0, 13), "end": (0, -13), "split": (-12, 12), "apex": (3, 13)}

fig = go.Figure()
layout = {}
shapes = []
annos = []
n = 0
for ci, key in enumerate(KEYS):
    r, c = divmod(ci, 3)
    npan = NPAN.get(key, 2)
    vgeo = ROWGEO[r][npan]
    xa_y = ROWGEO[r]["xa"]
    L, R, axx = BOXGEO[ci]
    xt = g[key + "_xticks"]
    xvals = [float(s) for s in xt]
    xr = [xvals[0], xvals[-1]]
    for i in range(npan):
        p = panel(f"{key}_{i + 1}")
        n += 1
        xn = "x" if n == 1 else f"x{n}"
        yn = "y" if n == 1 else f"y{n}"
        xk = "xaxis" if n == 1 else f"xaxis{n}"
        yk = "yaxis" if n == 1 else f"yaxis{n}"
        top, bot = vgeo[i]
        col = CURVE_COLORS[i]
        yr = [min(p["yt"]), max(p["yt"])]

        for (a, b0, b, b1) in p["fill"]:
            inner = [(xv, yv) for xv, yv in zip(p["x"], p["y"]) if a < xv < b]
            xs = [a] + [t[0] for t in inner] + [b]
            ys = [b0] + [t[1] for t in inner] + [b1]
            fig.add_trace(go.Scatter(x=xs, y=ys, xaxis=xn, yaxis=yn, mode="lines", fill="toself",
                                     fillcolor=FILL_COLOR, line=dict(width=0, shape="spline", smoothing=0.7),
                                     hoverinfo="skip"))
        fig.add_trace(go.Scatter(x=p["x"], y=p["y"], xaxis=xn, yaxis=yn, mode="lines",
                                 line=dict(color=col, width=1.5, shape="spline", smoothing=0.7),
                                 hoverinfo="skip"))
        bx, by = [], []
        for (a, ya, b, yb) in p["base"]:
            bx += [a, b, None]
            by += [ya, yb, None]
        fig.add_trace(go.Scatter(x=bx, y=by, xaxis=xn, yaxis=yn, mode="lines",
                                 line=dict(color="#ff0000", width=1.6), hoverinfo="skip"))

        for (mx, my, kind) in p["marks"]:
            y0, y1 = MARK_OFF[kind]
            shapes.append(dict(type="line", xref=xn, yref=yn, x0=mx, x1=mx, ysizemode="pixel",
                               yanchor=my, y0=y0, y1=y1, line=dict(color="#0000ff", width=2)))
        shapes.append(dict(type="rect", xref=f"{xn} domain", yref=f"{yn} domain", x0=0, x1=1, y0=0, y1=1,
                           line=dict(color="#111111", width=2), layer="above"))

        rt, area, sn = p["lab"]
        ly = LABEL_Y.get((key, i), 1.0)
        for j, t in enumerate([f"RT = {rt};", f"Area = {area}", f"SN={sn}"]):
            annos.append(dict(text=t, x=float(rt), xref=xn, y=ly, yref=f"{yn} domain",
                              xanchor="left", yanchor="top", xshift=1, yshift=1 - j * 21.5,
                              showarrow=False, font=dict(family=FONT, size=18, color="black")))

        layout[yk] = dict(domain=[fy(bot), fy(top)], range=yr, anchor="free", position=fx(axx),
                          showline=True, linecolor="black", linewidth=2, ticks="outside", ticklen=8,
                          tickwidth=2, tickcolor="black", tickmode="array", tickvals=p["yt"],
                          ticktext=p["ytt"], tickfont=dict(family=FONT, size=16, color=col),
                          showgrid=False, zeroline=False, fixedrange=True, automargin=False,
                          minor=dict(ticks="outside", ticklen=5, tickwidth=1.5, tickcolor="black",
                                     tickmode="array", tickvals=minor_vals(*yr), showgrid=False))
        if i == npan - 1:
            layout[xk] = dict(domain=[fx(L), fx(R)], range=xr, anchor="free", position=fy(xa_y),
                              showline=True, linecolor="black", linewidth=2, ticks="outside",
                              ticklen=7, tickwidth=2, tickcolor="black", tickmode="array",
                              tickvals=xvals, ticktext=xt, ticklabelstandoff=-4,
                              tickfont=dict(family=FONT, size=16, color="black"),
                              showgrid=False, zeroline=False, fixedrange=True, automargin=False,
                              minor=dict(ticks="outside", ticklen=6, tickwidth=1.5, tickcolor="black",
                                         tickmode="array", tickvals=minor_x(*xr), showgrid=False))
        else:
            layout[xk] = dict(domain=[fx(L), fx(R)], range=xr, anchor=yn, visible=False,
                              fixedrange=True)

    # title
    cx = (COLX[c][0] + COLX[c][1]) / 2
    annos.append(dict(text=TITLES[ci], x=fx(cx), y=fy(ROWTOP[r] + TITLE_H / 2 + 0.5), xref="paper",
                      yref="paper", xanchor="center", yanchor="middle", showarrow=False,
                      font=dict(family=CJK, size=24, color="#555555")))

# table grid lines
GRID = dict(color="#8c8c8c", width=2)
for xv in [9, 371, 737, 1094]:
    shapes.append(dict(type="line", xref="paper", yref="paper", x0=fx(xv), x1=fx(xv),
                       y0=fy(10), y1=fy(H), line=GRID))
for yv in ROWTOP:
    for yy in (yv, yv + TITLE_H):
        shapes.append(dict(type="line", xref="paper", yref="paper", x0=fx(9), x1=fx(1094),
                           y0=fy(yy), y1=fy(yy), line=GRID))

fig.update_layout(width=W, height=H, margin=dict(l=0, r=0, t=0, b=0, pad=0, autoexpand=False),
                  showlegend=False, paper_bgcolor="white", plot_bgcolor="white",
                  shapes=shapes, annotations=annos, **layout)

fig.write_html("out.html", config={"displayModeBar": False, "staticPlot": True},
               post_script="document.body.style.margin='0';document.body.style.overflow='hidden';")
